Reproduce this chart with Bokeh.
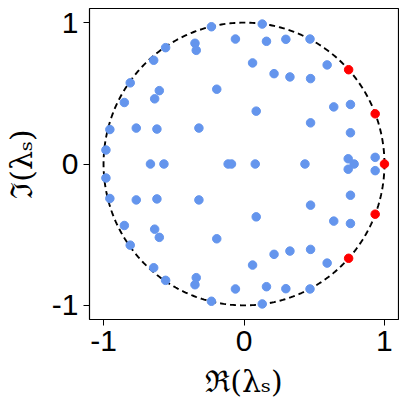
import numpy as np
from bokeh.plotting import figure
from bokeh.embed import file_html
from bokeh.resources import INLINE
from bokeh.models import FixedTicker, Range1d

# Blue eigenvalues (real / imaginary parts)
blue_re = [-0.232, -0.061, -0.349, -0.340, -0.558, -0.643, -0.810, -0.603, -0.636, -0.852,
           -0.194, -0.955, -0.767, -0.620, -0.321, -0.983, 0.130, 0.160, 0.298, 0.470,
           0.061, 0.214, 0.327, 0.474, 0.592, 0.087, 0.639, 0.758, 0.474, 0.758,
           0.742, 0.934,
           -0.232, -0.061, -0.349, -0.340, -0.558, -0.643, -0.810, -0.603, -0.636, -0.852,
           -0.194, -0.955, -0.767, -0.620, -0.321, -0.983, 0.130, 0.160, 0.298, 0.470,
           0.061, 0.214, 0.327, 0.474, 0.592, 0.087, 0.639, 0.758, 0.474, 0.758,
           0.742, 0.934,
           -0.666, -0.570, -0.113, -0.089, 0.080, 0.434, 0.784]
blue_im = [0.971, 0.884, 0.854, 0.804, 0.823, 0.734, 0.574, 0.519, 0.461, 0.435,
           0.529, 0.244, 0.254, 0.247, 0.254, 0.099, 0.990, 0.868, 0.882, 0.884,
           0.715, 0.639, 0.616, 0.604, 0.701, 0.374, 0.404, 0.421, 0.291, 0.221,
           0.037, 0.047,
           -0.971, -0.884, -0.854, -0.804, -0.823, -0.734, -0.574, -0.519, -0.461, -0.435,
           -0.529, -0.244, -0.254, -0.247, -0.254, -0.099, -0.990, -0.868, -0.882, -0.884,
           -0.715, -0.639, -0.616, -0.604, -0.701, -0.374, -0.404, -0.421, -0.291, -0.221,
           -0.037, -0.047,
           0.0, 0.0, 0.0, 0.0, 0.0, 0.0, 0.0]

# Red eigenvalues on the unit circle
red_re = [1.0, 0.934, 0.934, 0.745, 0.745]
red_im = [0.0, 0.355, -0.355, 0.667, -0.667]

ticks = [-1, 0, 1]
unit_radius = 1.0

p = figure(width=399, height=401, output_backend="svg", toolbar_location=None,
           x_range=Range1d(-1.1, 1.1), y_range=Range1d(-1.1, 1.1),
           min_border_left=87, min_border_right=1, min_border_top=8, min_border_bottom=80)

theta = np.linspace(0, 2 * np.pi, 400)
p.line(unit_radius * np.cos(theta), unit_radius * np.sin(theta),
       line_color="black", line_width=1.9, line_dash="6 4")

p.scatter(blue_re, blue_im, size=8.5, fill_color="#6495ED", line_color="#6495ED")
p.scatter(red_re, red_im, size=8.5, fill_color="red", line_color="red")

p.xgrid.visible = False
p.ygrid.visible = False
p.outline_line_color = "black"
p.outline_line_width = 1.2
p.outline_line_alpha = 1.0

for ax in (p.xaxis[0], p.yaxis[0]):
    ax.ticker = FixedTicker(ticks=ticks)
    ax.major_label_overrides = {-1: "-1", 0: "0", 1: "1"}
    ax.axis_line_color = None
    ax.major_tick_out = 6
    ax.major_tick_in = 0
    ax.major_tick_line_color = "black"
    ax.minor_tick_line_color = None
    ax.major_label_text_font = "Liberation Sans"
    ax.major_label_text_font_size = "30px"
    ax.major_label_text_color = "black"
    ax.axis_label_text_font = "DejaVu Serif"
    ax.axis_label_text_font_size = "30px"
    ax.axis_label_text_font_style = "normal"
    ax.axis_label_text_color = "black"
    ax.major_label_standoff = 5
    ax.axis_label_standoff = 10

p.xaxis[0].axis_label = "ℜ(λₛ)"
p.yaxis[0].axis_label = "ℑ(λₛ)"

open("out.html", "w").write(file_html(p, INLINE))
